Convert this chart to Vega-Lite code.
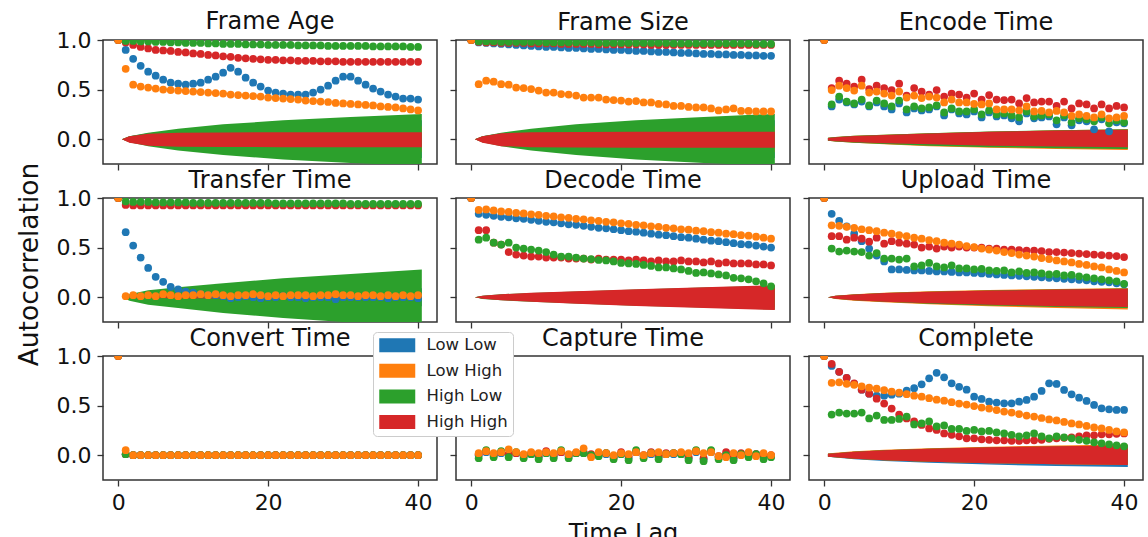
{
"$schema":"https://vega.github.io/schema/vega-lite/v6.json",
"background":"white",
"padding":{"left":15,"top":9,"right":0,"bottom":0},
"autosize":{"type":"pad"},
"columns":3,
"spacing":{"row":34,"column":19},
"bounds":"flush",
"datasets":{
"p1":[
{"s":"a","x":1,"y":0.90},{"s":"a","x":2,"y":0.81},{"s":"a","x":3,"y":0.74},{"s":"a","x":4,"y":0.68},{"s":"a","x":5,"y":0.64},{"s":"a","x":6,"y":0.60},{"s":"a","x":7,"y":0.57},{"s":"a","x":8,"y":0.56},{"s":"a","x":9,"y":0.55},{"s":"a","x":10,"y":0.56},{"s":"a","x":11,"y":0.57},{"s":"a","x":12,"y":0.60},{"s":"a","x":13,"y":0.63},{"s":"a","x":14,"y":0.67},{"s":"a","x":15,"y":0.72},{"s":"a","x":16,"y":0.68},{"s":"a","x":17,"y":0.62},{"s":"a","x":18,"y":0.57},{"s":"a","x":19,"y":0.53},{"s":"a","x":20,"y":0.49},{"s":"a","x":21,"y":0.47},{"s":"a","x":22,"y":0.46},{"s":"a","x":23,"y":0.45},{"s":"a","x":24,"y":0.45},{"s":"a","x":25,"y":0.45},{"s":"a","x":26,"y":0.47},{"s":"a","x":27,"y":0.50},{"s":"a","x":28,"y":0.54},{"s":"a","x":29,"y":0.59},{"s":"a","x":30,"y":0.63},{"s":"a","x":31,"y":0.63},{"s":"a","x":32,"y":0.59},{"s":"a","x":33,"y":0.55},{"s":"a","x":34,"y":0.51},{"s":"a","x":35,"y":0.48},{"s":"a","x":36,"y":0.45},{"s":"a","x":37,"y":0.43},{"s":"a","x":38,"y":0.41},{"s":"a","x":39,"y":0.41},{"s":"a","x":40,"y":0.40},
{"s":"d","x":1,"y":0.975},{"s":"d","x":2,"y":0.95},{"s":"d","x":3,"y":0.93},{"s":"d","x":4,"y":0.915},{"s":"d","x":5,"y":0.90},{"s":"d","x":6,"y":0.895},{"s":"d","x":7,"y":0.89},{"s":"d","x":8,"y":0.88},{"s":"d","x":9,"y":0.875},{"s":"d","x":10,"y":0.865},{"s":"d","x":11,"y":0.86},{"s":"d","x":12,"y":0.85},{"s":"d","x":13,"y":0.845},{"s":"d","x":14,"y":0.835},{"s":"d","x":15,"y":0.83},{"s":"d","x":16,"y":0.82},{"s":"d","x":17,"y":0.815},{"s":"d","x":18,"y":0.81},{"s":"d","x":19,"y":0.805},{"s":"d","x":20,"y":0.80},{"s":"d","x":21,"y":0.80},{"s":"d","x":22,"y":0.795},{"s":"d","x":23,"y":0.795},{"s":"d","x":24,"y":0.79},{"s":"d","x":25,"y":0.79},{"s":"d","x":26,"y":0.79},{"s":"d","x":27,"y":0.785},{"s":"d","x":28,"y":0.785},{"s":"d","x":29,"y":0.785},{"s":"d","x":30,"y":0.78},{"s":"d","x":31,"y":0.78},{"s":"d","x":32,"y":0.78},{"s":"d","x":33,"y":0.78},{"s":"d","x":34,"y":0.78},{"s":"d","x":35,"y":0.78},{"s":"d","x":36,"y":0.78},{"s":"d","x":37,"y":0.78},{"s":"d","x":38,"y":0.78},{"s":"d","x":39,"y":0.78},{"s":"d","x":40,"y":0.78},
{"s":"c","x":1,"y":0.99},{"s":"c","x":2,"y":0.99},{"s":"c","x":3,"y":0.985},{"s":"c","x":4,"y":0.985},{"s":"c","x":5,"y":0.98},{"s":"c","x":6,"y":0.98},{"s":"c","x":7,"y":0.975},{"s":"c","x":8,"y":0.975},{"s":"c","x":9,"y":0.97},{"s":"c","x":10,"y":0.97},{"s":"c","x":11,"y":0.97},{"s":"c","x":12,"y":0.965},{"s":"c","x":13,"y":0.965},{"s":"c","x":14,"y":0.96},{"s":"c","x":15,"y":0.96},{"s":"c","x":16,"y":0.96},{"s":"c","x":17,"y":0.955},{"s":"c","x":18,"y":0.955},{"s":"c","x":19,"y":0.955},{"s":"c","x":20,"y":0.95},{"s":"c","x":21,"y":0.95},{"s":"c","x":22,"y":0.95},{"s":"c","x":23,"y":0.95},{"s":"c","x":24,"y":0.945},{"s":"c","x":25,"y":0.945},{"s":"c","x":26,"y":0.945},{"s":"c","x":27,"y":0.945},{"s":"c","x":28,"y":0.94},{"s":"c","x":29,"y":0.94},{"s":"c","x":30,"y":0.94},{"s":"c","x":31,"y":0.94},{"s":"c","x":32,"y":0.94},{"s":"c","x":33,"y":0.94},{"s":"c","x":34,"y":0.935},{"s":"c","x":35,"y":0.935},{"s":"c","x":36,"y":0.935},{"s":"c","x":37,"y":0.935},{"s":"c","x":38,"y":0.935},{"s":"c","x":39,"y":0.93},{"s":"c","x":40,"y":0.93},
{"s":"b","x":1,"y":0.71},{"s":"b","x":2,"y":0.55},{"s":"b","x":3,"y":0.53},{"s":"b","x":4,"y":0.52},{"s":"b","x":5,"y":0.51},{"s":"b","x":6,"y":0.50},{"s":"b","x":7,"y":0.495},{"s":"b","x":8,"y":0.49},{"s":"b","x":9,"y":0.485},{"s":"b","x":10,"y":0.48},{"s":"b","x":11,"y":0.475},{"s":"b","x":12,"y":0.47},{"s":"b","x":13,"y":0.465},{"s":"b","x":14,"y":0.46},{"s":"b","x":15,"y":0.45},{"s":"b","x":16,"y":0.445},{"s":"b","x":17,"y":0.44},{"s":"b","x":18,"y":0.435},{"s":"b","x":19,"y":0.43},{"s":"b","x":20,"y":0.42},{"s":"b","x":21,"y":0.415},{"s":"b","x":22,"y":0.41},{"s":"b","x":23,"y":0.405},{"s":"b","x":24,"y":0.40},{"s":"b","x":25,"y":0.39},{"s":"b","x":26,"y":0.385},{"s":"b","x":27,"y":0.38},{"s":"b","x":28,"y":0.375},{"s":"b","x":29,"y":0.365},{"s":"b","x":30,"y":0.36},{"s":"b","x":31,"y":0.355},{"s":"b","x":32,"y":0.35},{"s":"b","x":33,"y":0.345},{"s":"b","x":34,"y":0.34},{"s":"b","x":35,"y":0.33},{"s":"b","x":36,"y":0.325},{"s":"b","x":37,"y":0.32},{"s":"b","x":38,"y":0.31},{"s":"b","x":39,"y":0.30},{"s":"b","x":40,"y":0.29},
{"s":"a","x":0,"y":1},{"s":"c","x":0,"y":1},{"s":"d","x":0,"y":1},{"s":"b","x":0,"y":1}],
"p2":[
{"s":"a","x":1,"y":0.975},{"s":"a","x":2,"y":0.97},{"s":"a","x":3,"y":0.965},{"s":"a","x":4,"y":0.96},{"s":"a","x":5,"y":0.955},{"s":"a","x":6,"y":0.95},{"s":"a","x":7,"y":0.945},{"s":"a","x":8,"y":0.94},{"s":"a","x":9,"y":0.935},{"s":"a","x":10,"y":0.93},{"s":"a","x":11,"y":0.93},{"s":"a","x":12,"y":0.925},{"s":"a","x":13,"y":0.92},{"s":"a","x":14,"y":0.92},{"s":"a","x":15,"y":0.915},{"s":"a","x":16,"y":0.91},{"s":"a","x":17,"y":0.91},{"s":"a","x":18,"y":0.905},{"s":"a","x":19,"y":0.90},{"s":"a","x":20,"y":0.90},{"s":"a","x":21,"y":0.895},{"s":"a","x":22,"y":0.89},{"s":"a","x":23,"y":0.89},{"s":"a","x":24,"y":0.885},{"s":"a","x":25,"y":0.88},{"s":"a","x":26,"y":0.88},{"s":"a","x":27,"y":0.875},{"s":"a","x":28,"y":0.87},{"s":"a","x":29,"y":0.87},{"s":"a","x":30,"y":0.865},{"s":"a","x":31,"y":0.86},{"s":"a","x":32,"y":0.86},{"s":"a","x":33,"y":0.855},{"s":"a","x":34,"y":0.855},{"s":"a","x":35,"y":0.85},{"s":"a","x":36,"y":0.85},{"s":"a","x":37,"y":0.845},{"s":"a","x":38,"y":0.845},{"s":"a","x":39,"y":0.84},{"s":"a","x":40,"y":0.84},
{"s":"d","x":1,"y":0.98},{"s":"d","x":2,"y":0.975},{"s":"d","x":3,"y":0.975},{"s":"d","x":4,"y":0.97},{"s":"d","x":5,"y":0.97},{"s":"d","x":6,"y":0.97},{"s":"d","x":7,"y":0.97},{"s":"d","x":8,"y":0.965},{"s":"d","x":9,"y":0.965},{"s":"d","x":10,"y":0.965},{"s":"d","x":11,"y":0.965},{"s":"d","x":12,"y":0.96},{"s":"d","x":13,"y":0.96},{"s":"d","x":14,"y":0.96},{"s":"d","x":15,"y":0.96},{"s":"d","x":16,"y":0.96},{"s":"d","x":17,"y":0.955},{"s":"d","x":18,"y":0.955},{"s":"d","x":19,"y":0.955},{"s":"d","x":20,"y":0.955},{"s":"d","x":21,"y":0.955},{"s":"d","x":22,"y":0.955},{"s":"d","x":23,"y":0.955},{"s":"d","x":24,"y":0.95},{"s":"d","x":25,"y":0.95},{"s":"d","x":26,"y":0.95},{"s":"d","x":27,"y":0.95},{"s":"d","x":28,"y":0.95},{"s":"d","x":29,"y":0.95},{"s":"d","x":30,"y":0.95},{"s":"d","x":31,"y":0.95},{"s":"d","x":32,"y":0.95},{"s":"d","x":33,"y":0.95},{"s":"d","x":34,"y":0.95},{"s":"d","x":35,"y":0.95},{"s":"d","x":36,"y":0.95},{"s":"d","x":37,"y":0.95},{"s":"d","x":38,"y":0.95},{"s":"d","x":39,"y":0.95},{"s":"d","x":40,"y":0.95},
{"s":"c","x":1,"y":0.985},{"s":"c","x":2,"y":0.985},{"s":"c","x":3,"y":0.985},{"s":"c","x":4,"y":0.98},{"s":"c","x":5,"y":0.98},{"s":"c","x":6,"y":0.98},{"s":"c","x":7,"y":0.98},{"s":"c","x":8,"y":0.98},{"s":"c","x":9,"y":0.98},{"s":"c","x":10,"y":0.975},{"s":"c","x":11,"y":0.975},{"s":"c","x":12,"y":0.975},{"s":"c","x":13,"y":0.975},{"s":"c","x":14,"y":0.975},{"s":"c","x":15,"y":0.975},{"s":"c","x":16,"y":0.975},{"s":"c","x":17,"y":0.97},{"s":"c","x":18,"y":0.97},{"s":"c","x":19,"y":0.97},{"s":"c","x":20,"y":0.97},{"s":"c","x":21,"y":0.97},{"s":"c","x":22,"y":0.97},{"s":"c","x":23,"y":0.97},{"s":"c","x":24,"y":0.97},{"s":"c","x":25,"y":0.97},{"s":"c","x":26,"y":0.97},{"s":"c","x":27,"y":0.965},{"s":"c","x":28,"y":0.965},{"s":"c","x":29,"y":0.965},{"s":"c","x":30,"y":0.965},{"s":"c","x":31,"y":0.965},{"s":"c","x":32,"y":0.965},{"s":"c","x":33,"y":0.965},{"s":"c","x":34,"y":0.965},{"s":"c","x":35,"y":0.965},{"s":"c","x":36,"y":0.965},{"s":"c","x":37,"y":0.965},{"s":"c","x":38,"y":0.96},{"s":"c","x":39,"y":0.96},{"s":"c","x":40,"y":0.96},
{"s":"b","x":1,"y":0.555},{"s":"b","x":2,"y":0.59},{"s":"b","x":3,"y":0.58},{"s":"b","x":4,"y":0.555},{"s":"b","x":5,"y":0.55},{"s":"b","x":6,"y":0.52},{"s":"b","x":7,"y":0.515},{"s":"b","x":8,"y":0.505},{"s":"b","x":9,"y":0.49},{"s":"b","x":10,"y":0.47},{"s":"b","x":11,"y":0.47},{"s":"b","x":12,"y":0.455},{"s":"b","x":13,"y":0.45},{"s":"b","x":14,"y":0.44},{"s":"b","x":15,"y":0.42},{"s":"b","x":16,"y":0.42},{"s":"b","x":17,"y":0.42},{"s":"b","x":18,"y":0.40},{"s":"b","x":19,"y":0.395},{"s":"b","x":20,"y":0.39},{"s":"b","x":21,"y":0.38},{"s":"b","x":22,"y":0.385},{"s":"b","x":23,"y":0.37},{"s":"b","x":24,"y":0.37},{"s":"b","x":25,"y":0.355},{"s":"b","x":26,"y":0.35},{"s":"b","x":27,"y":0.335},{"s":"b","x":28,"y":0.335},{"s":"b","x":29,"y":0.325},{"s":"b","x":30,"y":0.32},{"s":"b","x":31,"y":0.32},{"s":"b","x":32,"y":0.31},{"s":"b","x":33,"y":0.29},{"s":"b","x":34,"y":0.30},{"s":"b","x":35,"y":0.31},{"s":"b","x":36,"y":0.285},{"s":"b","x":37,"y":0.285},{"s":"b","x":38,"y":0.28},{"s":"b","x":39,"y":0.28},{"s":"b","x":40,"y":0.28},
{"s":"a","x":0,"y":1},{"s":"c","x":0,"y":1},{"s":"d","x":0,"y":1},{"s":"b","x":0,"y":1}],
"p3":[
{"s":"a","x":1,"y":0.33},{"s":"a","x":2,"y":0.40},{"s":"a","x":3,"y":0.37},{"s":"a","x":4,"y":0.35},{"s":"a","x":5,"y":0.38},{"s":"a","x":6,"y":0.33},{"s":"a","x":7,"y":0.37},{"s":"a","x":8,"y":0.33},{"s":"a","x":9,"y":0.30},{"s":"a","x":10,"y":0.36},{"s":"a","x":11,"y":0.27},{"s":"a","x":12,"y":0.31},{"s":"a","x":13,"y":0.29},{"s":"a","x":14,"y":0.30},{"s":"a","x":15,"y":0.33},{"s":"a","x":16,"y":0.24},{"s":"a","x":17,"y":0.30},{"s":"a","x":18,"y":0.26},{"s":"a","x":19,"y":0.25},{"s":"a","x":20,"y":0.28},{"s":"a","x":21,"y":0.22},{"s":"a","x":22,"y":0.27},{"s":"a","x":23,"y":0.23},{"s":"a","x":24,"y":0.24},{"s":"a","x":25,"y":0.21},{"s":"a","x":26,"y":0.18},{"s":"a","x":27,"y":0.26},{"s":"a","x":28,"y":0.21},{"s":"a","x":29,"y":0.22},{"s":"a","x":30,"y":0.23},{"s":"a","x":31,"y":0.15},{"s":"a","x":32,"y":0.22},{"s":"a","x":33,"y":0.14},{"s":"a","x":34,"y":0.19},{"s":"a","x":35,"y":0.18},{"s":"a","x":36,"y":0.10},{"s":"a","x":37,"y":0.20},{"s":"a","x":38,"y":0.08},{"s":"a","x":39,"y":0.17},{"s":"a","x":40,"y":0.16},
{"s":"d","x":1,"y":0.515},{"s":"d","x":2,"y":0.59},{"s":"d","x":3,"y":0.56},{"s":"d","x":4,"y":0.53},{"s":"d","x":5,"y":0.60},{"s":"d","x":6,"y":0.505},{"s":"d","x":7,"y":0.54},{"s":"d","x":8,"y":0.515},{"s":"d","x":9,"y":0.495},{"s":"d","x":10,"y":0.56},{"s":"d","x":11,"y":0.44},{"s":"d","x":12,"y":0.515},{"s":"d","x":13,"y":0.48},{"s":"d","x":14,"y":0.45},{"s":"d","x":15,"y":0.495},{"s":"d","x":16,"y":0.43},{"s":"d","x":17,"y":0.46},{"s":"d","x":18,"y":0.45},{"s":"d","x":19,"y":0.42},{"s":"d","x":20,"y":0.46},{"s":"d","x":21,"y":0.40},{"s":"d","x":22,"y":0.445},{"s":"d","x":23,"y":0.40},{"s":"d","x":24,"y":0.395},{"s":"d","x":25,"y":0.40},{"s":"d","x":26,"y":0.36},{"s":"d","x":27,"y":0.415},{"s":"d","x":28,"y":0.37},{"s":"d","x":29,"y":0.38},{"s":"d","x":30,"y":0.38},{"s":"d","x":31,"y":0.335},{"s":"d","x":32,"y":0.38},{"s":"d","x":33,"y":0.31},{"s":"d","x":34,"y":0.36},{"s":"d","x":35,"y":0.35},{"s":"d","x":36,"y":0.31},{"s":"d","x":37,"y":0.35},{"s":"d","x":38,"y":0.31},{"s":"d","x":39,"y":0.335},{"s":"d","x":40,"y":0.32},
{"s":"c","x":1,"y":0.35},{"s":"c","x":2,"y":0.43},{"s":"c","x":3,"y":0.38},{"s":"c","x":4,"y":0.36},{"s":"c","x":5,"y":0.40},{"s":"c","x":6,"y":0.34},{"s":"c","x":7,"y":0.39},{"s":"c","x":8,"y":0.36},{"s":"c","x":9,"y":0.33},{"s":"c","x":10,"y":0.39},{"s":"c","x":11,"y":0.30},{"s":"c","x":12,"y":0.33},{"s":"c","x":13,"y":0.31},{"s":"c","x":14,"y":0.32},{"s":"c","x":15,"y":0.34},{"s":"c","x":16,"y":0.27},{"s":"c","x":17,"y":0.31},{"s":"c","x":18,"y":0.28},{"s":"c","x":19,"y":0.28},{"s":"c","x":20,"y":0.30},{"s":"c","x":21,"y":0.25},{"s":"c","x":22,"y":0.29},{"s":"c","x":23,"y":0.25},{"s":"c","x":24,"y":0.26},{"s":"c","x":25,"y":0.24},{"s":"c","x":26,"y":0.22},{"s":"c","x":27,"y":0.28},{"s":"c","x":28,"y":0.23},{"s":"c","x":29,"y":0.24},{"s":"c","x":30,"y":0.25},{"s":"c","x":31,"y":0.19},{"s":"c","x":32,"y":0.24},{"s":"c","x":33,"y":0.17},{"s":"c","x":34,"y":0.21},{"s":"c","x":35,"y":0.20},{"s":"c","x":36,"y":0.18},{"s":"c","x":37,"y":0.22},{"s":"c","x":38,"y":0.16},{"s":"c","x":39,"y":0.19},{"s":"c","x":40,"y":0.17},
{"s":"b","x":1,"y":0.495},{"s":"b","x":2,"y":0.54},{"s":"b","x":3,"y":0.515},{"s":"b","x":4,"y":0.49},{"s":"b","x":5,"y":0.54},{"s":"b","x":6,"y":0.47},{"s":"b","x":7,"y":0.48},{"s":"b","x":8,"y":0.46},{"s":"b","x":9,"y":0.44},{"s":"b","x":10,"y":0.48},{"s":"b","x":11,"y":0.42},{"s":"b","x":12,"y":0.44},{"s":"b","x":13,"y":0.415},{"s":"b","x":14,"y":0.43},{"s":"b","x":15,"y":0.42},{"s":"b","x":16,"y":0.37},{"s":"b","x":17,"y":0.40},{"s":"b","x":18,"y":0.37},{"s":"b","x":19,"y":0.37},{"s":"b","x":20,"y":0.355},{"s":"b","x":21,"y":0.35},{"s":"b","x":22,"y":0.36},{"s":"b","x":23,"y":0.30},{"s":"b","x":24,"y":0.30},{"s":"b","x":25,"y":0.30},{"s":"b","x":26,"y":0.29},{"s":"b","x":27,"y":0.33},{"s":"b","x":28,"y":0.28},{"s":"b","x":29,"y":0.285},{"s":"b","x":30,"y":0.27},{"s":"b","x":31,"y":0.285},{"s":"b","x":32,"y":0.27},{"s":"b","x":33,"y":0.235},{"s":"b","x":34,"y":0.25},{"s":"b","x":35,"y":0.235},{"s":"b","x":36,"y":0.22},{"s":"b","x":37,"y":0.25},{"s":"b","x":38,"y":0.21},{"s":"b","x":39,"y":0.22},{"s":"b","x":40,"y":0.235},
{"s":"a","x":0,"y":1},{"s":"c","x":0,"y":1},{"s":"d","x":0,"y":1},{"s":"b","x":0,"y":1}],
"p4":[
{"s":"a","x":1,"y":0.655},{"s":"a","x":2,"y":0.52},{"s":"a","x":3,"y":0.40},{"s":"a","x":4,"y":0.295},{"s":"a","x":5,"y":0.205},{"s":"a","x":6,"y":0.155},{"s":"a","x":7,"y":0.105},{"s":"a","x":8,"y":0.08},{"s":"a","x":9,"y":0.055},{"s":"a","x":10,"y":0.045},{"s":"a","x":11,"y":0.03},{"s":"a","x":12,"y":0.02},{"s":"a","x":13,"y":0.02},{"s":"a","x":14,"y":0.01},{"s":"a","x":15,"y":-0.01},{"s":"a","x":16,"y":0.0},{"s":"a","x":17,"y":0.01},{"s":"a","x":18,"y":0.0},{"s":"a","x":19,"y":-0.01},{"s":"a","x":20,"y":0.0},{"s":"a","x":21,"y":0.0},{"s":"a","x":22,"y":0.01},{"s":"a","x":23,"y":0.0},{"s":"a","x":24,"y":0.0},{"s":"a","x":25,"y":-0.01},{"s":"a","x":26,"y":0.0},{"s":"a","x":27,"y":0.0},{"s":"a","x":28,"y":0.0},{"s":"a","x":29,"y":-0.02},{"s":"a","x":30,"y":0.0},{"s":"a","x":31,"y":0.0},{"s":"a","x":32,"y":0.0},{"s":"a","x":33,"y":0.0},{"s":"a","x":34,"y":0.0},{"s":"a","x":35,"y":0.0},{"s":"a","x":36,"y":-0.01},{"s":"a","x":37,"y":0.0},{"s":"a","x":38,"y":0.0},{"s":"a","x":39,"y":0.0},{"s":"a","x":40,"y":-0.01},
{"s":"d","x":1,"y":0.93},{"s":"d","x":2,"y":0.925},{"s":"d","x":3,"y":0.925},{"s":"d","x":4,"y":0.925},{"s":"d","x":5,"y":0.925},{"s":"d","x":6,"y":0.925},{"s":"d","x":7,"y":0.925},{"s":"d","x":8,"y":0.925},{"s":"d","x":9,"y":0.925},{"s":"d","x":10,"y":0.925},{"s":"d","x":11,"y":0.925},{"s":"d","x":12,"y":0.925},{"s":"d","x":13,"y":0.925},{"s":"d","x":14,"y":0.925},{"s":"d","x":15,"y":0.925},{"s":"d","x":16,"y":0.925},{"s":"d","x":17,"y":0.925},{"s":"d","x":18,"y":0.925},{"s":"d","x":19,"y":0.925},{"s":"d","x":20,"y":0.925},{"s":"d","x":21,"y":0.925},{"s":"d","x":22,"y":0.925},{"s":"d","x":23,"y":0.925},{"s":"d","x":24,"y":0.925},{"s":"d","x":25,"y":0.925},{"s":"d","x":26,"y":0.925},{"s":"d","x":27,"y":0.925},{"s":"d","x":28,"y":0.925},{"s":"d","x":29,"y":0.925},{"s":"d","x":30,"y":0.925},{"s":"d","x":31,"y":0.925},{"s":"d","x":32,"y":0.925},{"s":"d","x":33,"y":0.925},{"s":"d","x":34,"y":0.925},{"s":"d","x":35,"y":0.925},{"s":"d","x":36,"y":0.925},{"s":"d","x":37,"y":0.925},{"s":"d","x":38,"y":0.925},{"s":"d","x":39,"y":0.925},{"s":"d","x":40,"y":0.925},
{"s":"c","x":1,"y":0.965},{"s":"c","x":2,"y":0.96},{"s":"c","x":3,"y":0.96},{"s":"c","x":4,"y":0.96},{"s":"c","x":5,"y":0.955},{"s":"c","x":6,"y":0.955},{"s":"c","x":7,"y":0.955},{"s":"c","x":8,"y":0.955},{"s":"c","x":9,"y":0.955},{"s":"c","x":10,"y":0.95},{"s":"c","x":11,"y":0.95},{"s":"c","x":12,"y":0.95},{"s":"c","x":13,"y":0.95},{"s":"c","x":14,"y":0.95},{"s":"c","x":15,"y":0.95},{"s":"c","x":16,"y":0.95},{"s":"c","x":17,"y":0.95},{"s":"c","x":18,"y":0.95},{"s":"c","x":19,"y":0.95},{"s":"c","x":20,"y":0.95},{"s":"c","x":21,"y":0.945},{"s":"c","x":22,"y":0.945},{"s":"c","x":23,"y":0.945},{"s":"c","x":24,"y":0.945},{"s":"c","x":25,"y":0.945},{"s":"c","x":26,"y":0.945},{"s":"c","x":27,"y":0.945},{"s":"c","x":28,"y":0.945},{"s":"c","x":29,"y":0.945},{"s":"c","x":30,"y":0.945},{"s":"c","x":31,"y":0.94},{"s":"c","x":32,"y":0.94},{"s":"c","x":33,"y":0.94},{"s":"c","x":34,"y":0.94},{"s":"c","x":35,"y":0.94},{"s":"c","x":36,"y":0.94},{"s":"c","x":37,"y":0.94},{"s":"c","x":38,"y":0.94},{"s":"c","x":39,"y":0.94},{"s":"c","x":40,"y":0.94},
{"s":"b","x":1,"y":0.01},{"s":"b","x":2,"y":0.02},{"s":"b","x":3,"y":0.01},{"s":"b","x":4,"y":0.02},{"s":"b","x":5,"y":0.01},{"s":"b","x":6,"y":0.03},{"s":"b","x":7,"y":0.02},{"s":"b","x":8,"y":0.01},{"s":"b","x":9,"y":0.02},{"s":"b","x":10,"y":0.02},{"s":"b","x":11,"y":0.03},{"s":"b","x":12,"y":0.02},{"s":"b","x":13,"y":0.03},{"s":"b","x":14,"y":0.02},{"s":"b","x":15,"y":0.01},{"s":"b","x":16,"y":0.02},{"s":"b","x":17,"y":0.02},{"s":"b","x":18,"y":0.03},{"s":"b","x":19,"y":0.02},{"s":"b","x":20,"y":0.01},{"s":"b","x":21,"y":0.02},{"s":"b","x":22,"y":0.01},{"s":"b","x":23,"y":0.02},{"s":"b","x":24,"y":0.02},{"s":"b","x":25,"y":0.02},{"s":"b","x":26,"y":0.01},{"s":"b","x":27,"y":0.02},{"s":"b","x":28,"y":0.02},{"s":"b","x":29,"y":0.03},{"s":"b","x":30,"y":0.02},{"s":"b","x":31,"y":0.02},{"s":"b","x":32,"y":0.01},{"s":"b","x":33,"y":0.02},{"s":"b","x":34,"y":0.02},{"s":"b","x":35,"y":0.01},{"s":"b","x":36,"y":0.02},{"s":"b","x":37,"y":0.01},{"s":"b","x":38,"y":0.02},{"s":"b","x":39,"y":0.01},{"s":"b","x":40,"y":0.02},
{"s":"a","x":0,"y":1},{"s":"c","x":0,"y":1},{"s":"d","x":0,"y":1},{"s":"b","x":0,"y":1}],
"p5":[
{"s":"a","x":1,"y":0.84},{"s":"a","x":2,"y":0.83},{"s":"a","x":3,"y":0.82},{"s":"a","x":4,"y":0.81},{"s":"a","x":5,"y":0.805},{"s":"a","x":6,"y":0.795},{"s":"a","x":7,"y":0.79},{"s":"a","x":8,"y":0.78},{"s":"a","x":9,"y":0.77},{"s":"a","x":10,"y":0.76},{"s":"a","x":11,"y":0.755},{"s":"a","x":12,"y":0.745},{"s":"a","x":13,"y":0.735},{"s":"a","x":14,"y":0.73},{"s":"a","x":15,"y":0.72},{"s":"a","x":16,"y":0.71},{"s":"a","x":17,"y":0.70},{"s":"a","x":18,"y":0.695},{"s":"a","x":19,"y":0.685},{"s":"a","x":20,"y":0.675},{"s":"a","x":21,"y":0.665},{"s":"a","x":22,"y":0.66},{"s":"a","x":23,"y":0.65},{"s":"a","x":24,"y":0.64},{"s":"a","x":25,"y":0.63},{"s":"a","x":26,"y":0.625},{"s":"a","x":27,"y":0.615},{"s":"a","x":28,"y":0.605},{"s":"a","x":29,"y":0.60},{"s":"a","x":30,"y":0.59},{"s":"a","x":31,"y":0.58},{"s":"a","x":32,"y":0.57},{"s":"a","x":33,"y":0.565},{"s":"a","x":34,"y":0.555},{"s":"a","x":35,"y":0.545},{"s":"a","x":36,"y":0.535},{"s":"a","x":37,"y":0.53},{"s":"a","x":38,"y":0.52},{"s":"a","x":39,"y":0.51},{"s":"a","x":40,"y":0.50},
{"s":"d","x":1,"y":0.675},{"s":"d","x":2,"y":0.675},{"s":"d","x":3,"y":0.55},{"s":"d","x":4,"y":0.53},{"s":"d","x":5,"y":0.455},{"s":"d","x":6,"y":0.43},{"s":"d","x":7,"y":0.42},{"s":"d","x":8,"y":0.41},{"s":"d","x":9,"y":0.41},{"s":"d","x":10,"y":0.40},{"s":"d","x":11,"y":0.40},{"s":"d","x":12,"y":0.40},{"s":"d","x":13,"y":0.39},{"s":"d","x":14,"y":0.39},{"s":"d","x":15,"y":0.39},{"s":"d","x":16,"y":0.38},{"s":"d","x":17,"y":0.39},{"s":"d","x":18,"y":0.38},{"s":"d","x":19,"y":0.38},{"s":"d","x":20,"y":0.38},{"s":"d","x":21,"y":0.37},{"s":"d","x":22,"y":0.38},{"s":"d","x":23,"y":0.37},{"s":"d","x":24,"y":0.36},{"s":"d","x":25,"y":0.37},{"s":"d","x":26,"y":0.36},{"s":"d","x":27,"y":0.36},{"s":"d","x":28,"y":0.37},{"s":"d","x":29,"y":0.36},{"s":"d","x":30,"y":0.36},{"s":"d","x":31,"y":0.35},{"s":"d","x":32,"y":0.36},{"s":"d","x":33,"y":0.34},{"s":"d","x":34,"y":0.35},{"s":"d","x":35,"y":0.34},{"s":"d","x":36,"y":0.34},{"s":"d","x":37,"y":0.34},{"s":"d","x":38,"y":0.33},{"s":"d","x":39,"y":0.33},{"s":"d","x":40,"y":0.32},
{"s":"c","x":1,"y":0.58},{"s":"c","x":2,"y":0.60},{"s":"c","x":3,"y":0.55},{"s":"c","x":4,"y":0.53},{"s":"c","x":5,"y":0.55},{"s":"c","x":6,"y":0.50},{"s":"c","x":7,"y":0.49},{"s":"c","x":8,"y":0.48},{"s":"c","x":9,"y":0.47},{"s":"c","x":10,"y":0.455},{"s":"c","x":11,"y":0.43},{"s":"c","x":12,"y":0.41},{"s":"c","x":13,"y":0.41},{"s":"c","x":14,"y":0.40},{"s":"c","x":15,"y":0.39},{"s":"c","x":16,"y":0.385},{"s":"c","x":17,"y":0.375},{"s":"c","x":18,"y":0.37},{"s":"c","x":19,"y":0.36},{"s":"c","x":20,"y":0.345},{"s":"c","x":21,"y":0.34},{"s":"c","x":22,"y":0.335},{"s":"c","x":23,"y":0.325},{"s":"c","x":24,"y":0.315},{"s":"c","x":25,"y":0.30},{"s":"c","x":26,"y":0.30},{"s":"c","x":27,"y":0.29},{"s":"c","x":28,"y":0.28},{"s":"c","x":29,"y":0.265},{"s":"c","x":30,"y":0.245},{"s":"c","x":31,"y":0.25},{"s":"c","x":32,"y":0.24},{"s":"c","x":33,"y":0.23},{"s":"c","x":34,"y":0.22},{"s":"c","x":35,"y":0.195},{"s":"c","x":36,"y":0.19},{"s":"c","x":37,"y":0.18},{"s":"c","x":38,"y":0.16},{"s":"c","x":39,"y":0.14},{"s":"c","x":40,"y":0.11},
{"s":"b","x":1,"y":0.88},{"s":"b","x":2,"y":0.885},{"s":"b","x":3,"y":0.875},{"s":"b","x":4,"y":0.865},{"s":"b","x":5,"y":0.86},{"s":"b","x":6,"y":0.85},{"s":"b","x":7,"y":0.845},{"s":"b","x":8,"y":0.835},{"s":"b","x":9,"y":0.83},{"s":"b","x":10,"y":0.82},{"s":"b","x":11,"y":0.815},{"s":"b","x":12,"y":0.805},{"s":"b","x":13,"y":0.80},{"s":"b","x":14,"y":0.79},{"s":"b","x":15,"y":0.785},{"s":"b","x":16,"y":0.775},{"s":"b","x":17,"y":0.77},{"s":"b","x":18,"y":0.76},{"s":"b","x":19,"y":0.755},{"s":"b","x":20,"y":0.745},{"s":"b","x":21,"y":0.74},{"s":"b","x":22,"y":0.73},{"s":"b","x":23,"y":0.725},{"s":"b","x":24,"y":0.715},{"s":"b","x":25,"y":0.71},{"s":"b","x":26,"y":0.70},{"s":"b","x":27,"y":0.695},{"s":"b","x":28,"y":0.685},{"s":"b","x":29,"y":0.68},{"s":"b","x":30,"y":0.67},{"s":"b","x":31,"y":0.665},{"s":"b","x":32,"y":0.655},{"s":"b","x":33,"y":0.65},{"s":"b","x":34,"y":0.64},{"s":"b","x":35,"y":0.635},{"s":"b","x":36,"y":0.625},{"s":"b","x":37,"y":0.62},{"s":"b","x":38,"y":0.61},{"s":"b","x":39,"y":0.60},{"s":"b","x":40,"y":0.59},
{"s":"a","x":0,"y":1},{"s":"c","x":0,"y":1},{"s":"d","x":0,"y":1},{"s":"b","x":0,"y":1}],
"p6":[
{"s":"a","x":1,"y":0.84},{"s":"a","x":2,"y":0.77},{"s":"a","x":3,"y":0.715},{"s":"a","x":4,"y":0.64},{"s":"a","x":5,"y":0.565},{"s":"a","x":6,"y":0.49},{"s":"a","x":7,"y":0.42},{"s":"a","x":8,"y":0.36},{"s":"a","x":9,"y":0.28},{"s":"a","x":10,"y":0.28},{"s":"a","x":11,"y":0.275},{"s":"a","x":12,"y":0.27},{"s":"a","x":13,"y":0.27},{"s":"a","x":14,"y":0.265},{"s":"a","x":15,"y":0.26},{"s":"a","x":16,"y":0.26},{"s":"a","x":17,"y":0.255},{"s":"a","x":18,"y":0.25},{"s":"a","x":19,"y":0.25},{"s":"a","x":20,"y":0.245},{"s":"a","x":21,"y":0.24},{"s":"a","x":22,"y":0.235},{"s":"a","x":23,"y":0.23},{"s":"a","x":24,"y":0.225},{"s":"a","x":25,"y":0.22},{"s":"a","x":26,"y":0.215},{"s":"a","x":27,"y":0.21},{"s":"a","x":28,"y":0.205},{"s":"a","x":29,"y":0.20},{"s":"a","x":30,"y":0.195},{"s":"a","x":31,"y":0.19},{"s":"a","x":32,"y":0.185},{"s":"a","x":33,"y":0.18},{"s":"a","x":34,"y":0.175},{"s":"a","x":35,"y":0.17},{"s":"a","x":36,"y":0.16},{"s":"a","x":37,"y":0.155},{"s":"a","x":38,"y":0.15},{"s":"a","x":39,"y":0.14},{"s":"a","x":40,"y":0.13},
{"s":"d","x":1,"y":0.615},{"s":"d","x":2,"y":0.615},{"s":"d","x":3,"y":0.58},{"s":"d","x":4,"y":0.60},{"s":"d","x":5,"y":0.59},{"s":"d","x":6,"y":0.56},{"s":"d","x":7,"y":0.60},{"s":"d","x":8,"y":0.54},{"s":"d","x":9,"y":0.565},{"s":"d","x":10,"y":0.55},{"s":"d","x":11,"y":0.54},{"s":"d","x":12,"y":0.53},{"s":"d","x":13,"y":0.50},{"s":"d","x":14,"y":0.51},{"s":"d","x":15,"y":0.49},{"s":"d","x":16,"y":0.51},{"s":"d","x":17,"y":0.50},{"s":"d","x":18,"y":0.51},{"s":"d","x":19,"y":0.50},{"s":"d","x":20,"y":0.50},{"s":"d","x":21,"y":0.50},{"s":"d","x":22,"y":0.49},{"s":"d","x":23,"y":0.49},{"s":"d","x":24,"y":0.48},{"s":"d","x":25,"y":0.48},{"s":"d","x":26,"y":0.475},{"s":"d","x":27,"y":0.47},{"s":"d","x":28,"y":0.47},{"s":"d","x":29,"y":0.465},{"s":"d","x":30,"y":0.455},{"s":"d","x":31,"y":0.455},{"s":"d","x":32,"y":0.45},{"s":"d","x":33,"y":0.445},{"s":"d","x":34,"y":0.44},{"s":"d","x":35,"y":0.435},{"s":"d","x":36,"y":0.43},{"s":"d","x":37,"y":0.425},{"s":"d","x":38,"y":0.42},{"s":"d","x":39,"y":0.415},{"s":"d","x":40,"y":0.405},
{"s":"c","x":1,"y":0.49},{"s":"c","x":2,"y":0.46},{"s":"c","x":3,"y":0.47},{"s":"c","x":4,"y":0.46},{"s":"c","x":5,"y":0.455},{"s":"c","x":6,"y":0.42},{"s":"c","x":7,"y":0.445},{"s":"c","x":8,"y":0.39},{"s":"c","x":9,"y":0.39},{"s":"c","x":10,"y":0.38},{"s":"c","x":11,"y":0.39},{"s":"c","x":12,"y":0.31},{"s":"c","x":13,"y":0.32},{"s":"c","x":14,"y":0.345},{"s":"c","x":15,"y":0.31},{"s":"c","x":16,"y":0.30},{"s":"c","x":17,"y":0.32},{"s":"c","x":18,"y":0.29},{"s":"c","x":19,"y":0.29},{"s":"c","x":20,"y":0.28},{"s":"c","x":21,"y":0.285},{"s":"c","x":22,"y":0.27},{"s":"c","x":23,"y":0.265},{"s":"c","x":24,"y":0.27},{"s":"c","x":25,"y":0.25},{"s":"c","x":26,"y":0.26},{"s":"c","x":27,"y":0.245},{"s":"c","x":28,"y":0.25},{"s":"c","x":29,"y":0.24},{"s":"c","x":30,"y":0.23},{"s":"c","x":31,"y":0.235},{"s":"c","x":32,"y":0.22},{"s":"c","x":33,"y":0.225},{"s":"c","x":34,"y":0.21},{"s":"c","x":35,"y":0.20},{"s":"c","x":36,"y":0.19},{"s":"c","x":37,"y":0.18},{"s":"c","x":38,"y":0.17},{"s":"c","x":39,"y":0.16},{"s":"c","x":40,"y":0.135},
{"s":"b","x":1,"y":0.725},{"s":"b","x":2,"y":0.72},{"s":"b","x":3,"y":0.71},{"s":"b","x":4,"y":0.70},{"s":"b","x":5,"y":0.685},{"s":"b","x":6,"y":0.675},{"s":"b","x":7,"y":0.665},{"s":"b","x":8,"y":0.65},{"s":"b","x":9,"y":0.64},{"s":"b","x":10,"y":0.625},{"s":"b","x":11,"y":0.615},{"s":"b","x":12,"y":0.60},{"s":"b","x":13,"y":0.59},{"s":"b","x":14,"y":0.575},{"s":"b","x":15,"y":0.565},{"s":"b","x":16,"y":0.55},{"s":"b","x":17,"y":0.54},{"s":"b","x":18,"y":0.53},{"s":"b","x":19,"y":0.515},{"s":"b","x":20,"y":0.505},{"s":"b","x":21,"y":0.49},{"s":"b","x":22,"y":0.48},{"s":"b","x":23,"y":0.47},{"s":"b","x":24,"y":0.455},{"s":"b","x":25,"y":0.445},{"s":"b","x":26,"y":0.43},{"s":"b","x":27,"y":0.42},{"s":"b","x":28,"y":0.41},{"s":"b","x":29,"y":0.395},{"s":"b","x":30,"y":0.385},{"s":"b","x":31,"y":0.37},{"s":"b","x":32,"y":0.36},{"s":"b","x":33,"y":0.35},{"s":"b","x":34,"y":0.335},{"s":"b","x":35,"y":0.325},{"s":"b","x":36,"y":0.31},{"s":"b","x":37,"y":0.30},{"s":"b","x":38,"y":0.28},{"s":"b","x":39,"y":0.265},{"s":"b","x":40,"y":0.25},
{"s":"a","x":0,"y":1},{"s":"c","x":0,"y":1},{"s":"d","x":0,"y":1},{"s":"b","x":0,"y":1}],
"p7":[
{"s":"a","x":1,"y":0.01},{"s":"a","x":2,"y":0},{"s":"a","x":3,"y":0},{"s":"a","x":4,"y":0},{"s":"a","x":5,"y":0},{"s":"a","x":6,"y":0},{"s":"a","x":7,"y":0},{"s":"a","x":8,"y":0},{"s":"a","x":9,"y":0},{"s":"a","x":10,"y":0},{"s":"a","x":11,"y":0},{"s":"a","x":12,"y":0},{"s":"a","x":13,"y":0},{"s":"a","x":14,"y":0},{"s":"a","x":15,"y":0},{"s":"a","x":16,"y":0},{"s":"a","x":17,"y":0},{"s":"a","x":18,"y":0},{"s":"a","x":19,"y":0},{"s":"a","x":20,"y":0},{"s":"a","x":21,"y":0},{"s":"a","x":22,"y":0},{"s":"a","x":23,"y":0},{"s":"a","x":24,"y":0},{"s":"a","x":25,"y":0},{"s":"a","x":26,"y":0},{"s":"a","x":27,"y":0},{"s":"a","x":28,"y":0},{"s":"a","x":29,"y":0},{"s":"a","x":30,"y":0},{"s":"a","x":31,"y":0},{"s":"a","x":32,"y":0},{"s":"a","x":33,"y":0},{"s":"a","x":34,"y":0},{"s":"a","x":35,"y":0},{"s":"a","x":36,"y":0},{"s":"a","x":37,"y":0},{"s":"a","x":38,"y":0},{"s":"a","x":39,"y":0},{"s":"a","x":40,"y":0},
{"s":"d","x":1,"y":0.01},{"s":"d","x":2,"y":0},{"s":"d","x":3,"y":0},{"s":"d","x":4,"y":0},{"s":"d","x":5,"y":0},{"s":"d","x":6,"y":0},{"s":"d","x":7,"y":0},{"s":"d","x":8,"y":0},{"s":"d","x":9,"y":0},{"s":"d","x":10,"y":0},{"s":"d","x":11,"y":0},{"s":"d","x":12,"y":0},{"s":"d","x":13,"y":0},{"s":"d","x":14,"y":0},{"s":"d","x":15,"y":0},{"s":"d","x":16,"y":0},{"s":"d","x":17,"y":0},{"s":"d","x":18,"y":0},{"s":"d","x":19,"y":0},{"s":"d","x":20,"y":0},{"s":"d","x":21,"y":0},{"s":"d","x":22,"y":0},{"s":"d","x":23,"y":0},{"s":"d","x":24,"y":0},{"s":"d","x":25,"y":0},{"s":"d","x":26,"y":0},{"s":"d","x":27,"y":0},{"s":"d","x":28,"y":0},{"s":"d","x":29,"y":0},{"s":"d","x":30,"y":0},{"s":"d","x":31,"y":0},{"s":"d","x":32,"y":0},{"s":"d","x":33,"y":0},{"s":"d","x":34,"y":0},{"s":"d","x":35,"y":0},{"s":"d","x":36,"y":0},{"s":"d","x":37,"y":0},{"s":"d","x":38,"y":0},{"s":"d","x":39,"y":0},{"s":"d","x":40,"y":0},
{"s":"c","x":1,"y":0.01},{"s":"c","x":2,"y":0},{"s":"c","x":3,"y":0},{"s":"c","x":4,"y":0},{"s":"c","x":5,"y":0},{"s":"c","x":6,"y":0},{"s":"c","x":7,"y":0},{"s":"c","x":8,"y":0},{"s":"c","x":9,"y":0},{"s":"c","x":10,"y":0},{"s":"c","x":11,"y":0},{"s":"c","x":12,"y":0},{"s":"c","x":13,"y":0},{"s":"c","x":14,"y":0},{"s":"c","x":15,"y":0},{"s":"c","x":16,"y":0},{"s":"c","x":17,"y":0},{"s":"c","x":18,"y":0},{"s":"c","x":19,"y":0},{"s":"c","x":20,"y":0},{"s":"c","x":21,"y":0},{"s":"c","x":22,"y":0},{"s":"c","x":23,"y":0},{"s":"c","x":24,"y":0},{"s":"c","x":25,"y":0},{"s":"c","x":26,"y":0},{"s":"c","x":27,"y":0},{"s":"c","x":28,"y":0},{"s":"c","x":29,"y":0},{"s":"c","x":30,"y":0},{"s":"c","x":31,"y":0},{"s":"c","x":32,"y":0},{"s":"c","x":33,"y":0},{"s":"c","x":34,"y":0},{"s":"c","x":35,"y":0},{"s":"c","x":36,"y":0},{"s":"c","x":37,"y":0},{"s":"c","x":38,"y":0},{"s":"c","x":39,"y":0},{"s":"c","x":40,"y":0},
{"s":"b","x":1,"y":0.05},{"s":"b","x":2,"y":0},{"s":"b","x":3,"y":0},{"s":"b","x":4,"y":0},{"s":"b","x":5,"y":0},{"s":"b","x":6,"y":0},{"s":"b","x":7,"y":0},{"s":"b","x":8,"y":0},{"s":"b","x":9,"y":0},{"s":"b","x":10,"y":0},{"s":"b","x":11,"y":0},{"s":"b","x":12,"y":0},{"s":"b","x":13,"y":0},{"s":"b","x":14,"y":0},{"s":"b","x":15,"y":0},{"s":"b","x":16,"y":0},{"s":"b","x":17,"y":0},{"s":"b","x":18,"y":0},{"s":"b","x":19,"y":0},{"s":"b","x":20,"y":0},{"s":"b","x":21,"y":0},{"s":"b","x":22,"y":0},{"s":"b","x":23,"y":0},{"s":"b","x":24,"y":0},{"s":"b","x":25,"y":0},{"s":"b","x":26,"y":0},{"s":"b","x":27,"y":0},{"s":"b","x":28,"y":0},{"s":"b","x":29,"y":0},{"s":"b","x":30,"y":0},{"s":"b","x":31,"y":0},{"s":"b","x":32,"y":0},{"s":"b","x":33,"y":0},{"s":"b","x":34,"y":0},{"s":"b","x":35,"y":0},{"s":"b","x":36,"y":0},{"s":"b","x":37,"y":0},{"s":"b","x":38,"y":0},{"s":"b","x":39,"y":0},{"s":"b","x":40,"y":0},
{"s":"a","x":0,"y":1},{"s":"c","x":0,"y":1},{"s":"d","x":0,"y":1},{"s":"b","x":0,"y":1}],
"p8":[
{"s":"a","x":1,"y":0.0},{"s":"a","x":2,"y":0.03},{"s":"a","x":3,"y":0.0},{"s":"a","x":4,"y":0.02},{"s":"a","x":5,"y":0.0},{"s":"a","x":6,"y":0.02},{"s":"a","x":7,"y":-0.01},{"s":"a","x":8,"y":0.01},{"s":"a","x":9,"y":-0.02},{"s":"a","x":10,"y":0.02},{"s":"a","x":11,"y":-0.01},{"s":"a","x":12,"y":0.03},{"s":"a","x":13,"y":-0.01},{"s":"a","x":14,"y":0.02},{"s":"a","x":15,"y":0.02},{"s":"a","x":16,"y":0.0},{"s":"a","x":17,"y":0.0},{"s":"a","x":18,"y":0.01},{"s":"a","x":19,"y":-0.02},{"s":"a","x":20,"y":0.01},{"s":"a","x":21,"y":-0.03},{"s":"a","x":22,"y":0.03},{"s":"a","x":23,"y":-0.01},{"s":"a","x":24,"y":0.01},{"s":"a","x":25,"y":-0.02},{"s":"a","x":26,"y":0.01},{"s":"a","x":27,"y":0.01},{"s":"a","x":28,"y":0.01},{"s":"a","x":29,"y":-0.03},{"s":"a","x":30,"y":0.03},{"s":"a","x":31,"y":-0.04},{"s":"a","x":32,"y":0.03},{"s":"a","x":33,"y":-0.02},{"s":"a","x":34,"y":0.0},{"s":"a","x":35,"y":-0.03},{"s":"a","x":36,"y":0.01},{"s":"a","x":37,"y":-0.01},{"s":"a","x":38,"y":0.01},{"s":"a","x":39,"y":-0.02},{"s":"a","x":40,"y":-0.01},
{"s":"d","x":1,"y":0.01},{"s":"d","x":2,"y":0.04},{"s":"d","x":3,"y":0.0},{"s":"d","x":4,"y":0.03},{"s":"d","x":5,"y":0.01},{"s":"d","x":6,"y":0.02},{"s":"d","x":7,"y":0.0},{"s":"d","x":8,"y":0.02},{"s":"d","x":9,"y":-0.01},{"s":"d","x":10,"y":0.04},{"s":"d","x":11,"y":0.0},{"s":"d","x":12,"y":0.03},{"s":"d","x":13,"y":0.0},{"s":"d","x":14,"y":0.02},{"s":"d","x":15,"y":0.03},{"s":"d","x":16,"y":0.01},{"s":"d","x":17,"y":0.01},{"s":"d","x":18,"y":0.02},{"s":"d","x":19,"y":-0.02},{"s":"d","x":20,"y":0.03},{"s":"d","x":21,"y":-0.01},{"s":"d","x":22,"y":0.03},{"s":"d","x":23,"y":0.0},{"s":"d","x":24,"y":0.03},{"s":"d","x":25,"y":-0.01},{"s":"d","x":26,"y":0.02},{"s":"d","x":27,"y":0.02},{"s":"d","x":28,"y":0.02},{"s":"d","x":29,"y":-0.02},{"s":"d","x":30,"y":0.04},{"s":"d","x":31,"y":-0.03},{"s":"d","x":32,"y":0.04},{"s":"d","x":33,"y":-0.01},{"s":"d","x":34,"y":0.03},{"s":"d","x":35,"y":-0.02},{"s":"d","x":36,"y":0.02},{"s":"d","x":37,"y":0.0},{"s":"d","x":38,"y":0.01},{"s":"d","x":39,"y":-0.01},{"s":"d","x":40,"y":0.0},
{"s":"c","x":1,"y":-0.03},{"s":"c","x":2,"y":0.05},{"s":"c","x":3,"y":-0.02},{"s":"c","x":4,"y":0.04},{"s":"c","x":5,"y":-0.02},{"s":"c","x":6,"y":0.03},{"s":"c","x":7,"y":-0.03},{"s":"c","x":8,"y":0.01},{"s":"c","x":9,"y":-0.04},{"s":"c","x":10,"y":0.02},{"s":"c","x":11,"y":-0.03},{"s":"c","x":12,"y":0.05},{"s":"c","x":13,"y":-0.03},{"s":"c","x":14,"y":0.02},{"s":"c","x":15,"y":0.02},{"s":"c","x":16,"y":0.0},{"s":"c","x":17,"y":-0.01},{"s":"c","x":18,"y":0.02},{"s":"c","x":19,"y":-0.04},{"s":"c","x":20,"y":0.01},{"s":"c","x":21,"y":-0.05},{"s":"c","x":22,"y":0.05},{"s":"c","x":23,"y":-0.03},{"s":"c","x":24,"y":0.02},{"s":"c","x":25,"y":-0.04},{"s":"c","x":26,"y":0.01},{"s":"c","x":27,"y":0.02},{"s":"c","x":28,"y":0.01},{"s":"c","x":29,"y":-0.05},{"s":"c","x":30,"y":0.05},{"s":"c","x":31,"y":-0.06},{"s":"c","x":32,"y":0.05},{"s":"c","x":33,"y":-0.04},{"s":"c","x":34,"y":0.0},{"s":"c","x":35,"y":-0.05},{"s":"c","x":36,"y":0.01},{"s":"c","x":37,"y":-0.02},{"s":"c","x":38,"y":0.01},{"s":"c","x":39,"y":-0.04},{"s":"c","x":40,"y":-0.02},
{"s":"b","x":1,"y":0.02},{"s":"b","x":2,"y":0.04},{"s":"b","x":3,"y":0.02},{"s":"b","x":4,"y":0.03},{"s":"b","x":5,"y":0.06},{"s":"b","x":6,"y":0.03},{"s":"b","x":7,"y":0.01},{"s":"b","x":8,"y":0.03},{"s":"b","x":9,"y":0.02},{"s":"b","x":10,"y":0.03},{"s":"b","x":11,"y":0.02},{"s":"b","x":12,"y":0.04},{"s":"b","x":13,"y":0.01},{"s":"b","x":14,"y":0.03},{"s":"b","x":15,"y":0.07},{"s":"b","x":16,"y":-0.02},{"s":"b","x":17,"y":0.03},{"s":"b","x":18,"y":0.02},{"s":"b","x":19,"y":0.0},{"s":"b","x":20,"y":0.02},{"s":"b","x":21,"y":0.01},{"s":"b","x":22,"y":0.03},{"s":"b","x":23,"y":0.0},{"s":"b","x":24,"y":0.02},{"s":"b","x":25,"y":0.03},{"s":"b","x":26,"y":0.01},{"s":"b","x":27,"y":0.02},{"s":"b","x":28,"y":0.03},{"s":"b","x":29,"y":0.02},{"s":"b","x":30,"y":0.04},{"s":"b","x":31,"y":0.02},{"s":"b","x":32,"y":0.03},{"s":"b","x":33,"y":-0.01},{"s":"b","x":34,"y":-0.02},{"s":"b","x":35,"y":0.02},{"s":"b","x":36,"y":0.0},{"s":"b","x":37,"y":0.03},{"s":"b","x":38,"y":-0.01},{"s":"b","x":39,"y":0.02},{"s":"b","x":40,"y":0.0}],
"p9":[
{"s":"a","x":1,"y":0.90},{"s":"a","x":2,"y":0.84},{"s":"a","x":3,"y":0.78},{"s":"a","x":4,"y":0.72},{"s":"a","x":5,"y":0.66},{"s":"a","x":6,"y":0.62},{"s":"a","x":7,"y":0.60},{"s":"a","x":8,"y":0.60},{"s":"a","x":9,"y":0.61},{"s":"a","x":10,"y":0.62},{"s":"a","x":11,"y":0.65},{"s":"a","x":12,"y":0.675},{"s":"a","x":13,"y":0.715},{"s":"a","x":14,"y":0.775},{"s":"a","x":15,"y":0.83},{"s":"a","x":16,"y":0.785},{"s":"a","x":17,"y":0.725},{"s":"a","x":18,"y":0.69},{"s":"a","x":19,"y":0.66},{"s":"a","x":20,"y":0.59},{"s":"a","x":21,"y":0.567},{"s":"a","x":22,"y":0.54},{"s":"a","x":23,"y":0.53},{"s":"a","x":24,"y":0.523},{"s":"a","x":25,"y":0.523},{"s":"a","x":26,"y":0.54},{"s":"a","x":27,"y":0.557},{"s":"a","x":28,"y":0.59},{"s":"a","x":29,"y":0.648},{"s":"a","x":30,"y":0.725},{"s":"a","x":31,"y":0.718},{"s":"a","x":32,"y":0.658},{"s":"a","x":33,"y":0.614},{"s":"a","x":34,"y":0.58},{"s":"a","x":35,"y":0.547},{"s":"a","x":36,"y":0.507},{"s":"a","x":37,"y":0.473},{"s":"a","x":38,"y":0.463},{"s":"a","x":39,"y":0.456},{"s":"a","x":40,"y":0.456},
{"s":"d","x":1,"y":0.92},{"s":"d","x":2,"y":0.84},{"s":"d","x":3,"y":0.78},{"s":"d","x":4,"y":0.725},{"s":"d","x":5,"y":0.66},{"s":"d","x":6,"y":0.62},{"s":"d","x":7,"y":0.57},{"s":"d","x":8,"y":0.52},{"s":"d","x":9,"y":0.47},{"s":"d","x":10,"y":0.41},{"s":"d","x":11,"y":0.37},{"s":"d","x":12,"y":0.34},{"s":"d","x":13,"y":0.305},{"s":"d","x":14,"y":0.27},{"s":"d","x":15,"y":0.255},{"s":"d","x":16,"y":0.22},{"s":"d","x":17,"y":0.205},{"s":"d","x":18,"y":0.19},{"s":"d","x":19,"y":0.17},{"s":"d","x":20,"y":0.17},{"s":"d","x":21,"y":0.16},{"s":"d","x":22,"y":0.155},{"s":"d","x":23,"y":0.15},{"s":"d","x":24,"y":0.15},{"s":"d","x":25,"y":0.145},{"s":"d","x":26,"y":0.145},{"s":"d","x":27,"y":0.15},{"s":"d","x":28,"y":0.15},{"s":"d","x":29,"y":0.155},{"s":"d","x":30,"y":0.165},{"s":"d","x":31,"y":0.17},{"s":"d","x":32,"y":0.175},{"s":"d","x":33,"y":0.18},{"s":"d","x":34,"y":0.19},{"s":"d","x":35,"y":0.20},{"s":"d","x":36,"y":0.20},{"s":"d","x":37,"y":0.21},{"s":"d","x":38,"y":0.21},{"s":"d","x":39,"y":0.215},{"s":"d","x":40,"y":0.22},
{"s":"c","x":1,"y":0.41},{"s":"c","x":2,"y":0.43},{"s":"c","x":3,"y":0.42},{"s":"c","x":4,"y":0.42},{"s":"c","x":5,"y":0.43},{"s":"c","x":6,"y":0.37},{"s":"c","x":7,"y":0.40},{"s":"c","x":8,"y":0.355},{"s":"c","x":9,"y":0.355},{"s":"c","x":10,"y":0.365},{"s":"c","x":11,"y":0.39},{"s":"c","x":12,"y":0.31},{"s":"c","x":13,"y":0.32},{"s":"c","x":14,"y":0.34},{"s":"c","x":15,"y":0.29},{"s":"c","x":16,"y":0.30},{"s":"c","x":17,"y":0.265},{"s":"c","x":18,"y":0.265},{"s":"c","x":19,"y":0.245},{"s":"c","x":20,"y":0.255},{"s":"c","x":21,"y":0.24},{"s":"c","x":22,"y":0.245},{"s":"c","x":23,"y":0.23},{"s":"c","x":24,"y":0.22},{"s":"c","x":25,"y":0.205},{"s":"c","x":26,"y":0.19},{"s":"c","x":27,"y":0.20},{"s":"c","x":28,"y":0.22},{"s":"c","x":29,"y":0.19},{"s":"c","x":30,"y":0.17},{"s":"c","x":31,"y":0.19},{"s":"c","x":32,"y":0.18},{"s":"c","x":33,"y":0.17},{"s":"c","x":34,"y":0.155},{"s":"c","x":35,"y":0.145},{"s":"c","x":36,"y":0.13},{"s":"c","x":37,"y":0.12},{"s":"c","x":38,"y":0.11},{"s":"c","x":39,"y":0.10},{"s":"c","x":40,"y":0.09},
{"s":"b","x":1,"y":0.73},{"s":"b","x":2,"y":0.735},{"s":"b","x":3,"y":0.72},{"s":"b","x":4,"y":0.71},{"s":"b","x":5,"y":0.695},{"s":"b","x":6,"y":0.68},{"s":"b","x":7,"y":0.67},{"s":"b","x":8,"y":0.655},{"s":"b","x":9,"y":0.64},{"s":"b","x":10,"y":0.63},{"s":"b","x":11,"y":0.615},{"s":"b","x":12,"y":0.60},{"s":"b","x":13,"y":0.59},{"s":"b","x":14,"y":0.575},{"s":"b","x":15,"y":0.56},{"s":"b","x":16,"y":0.55},{"s":"b","x":17,"y":0.535},{"s":"b","x":18,"y":0.52},{"s":"b","x":19,"y":0.51},{"s":"b","x":20,"y":0.495},{"s":"b","x":21,"y":0.48},{"s":"b","x":22,"y":0.47},{"s":"b","x":23,"y":0.455},{"s":"b","x":24,"y":0.44},{"s":"b","x":25,"y":0.43},{"s":"b","x":26,"y":0.415},{"s":"b","x":27,"y":0.40},{"s":"b","x":28,"y":0.39},{"s":"b","x":29,"y":0.375},{"s":"b","x":30,"y":0.36},{"s":"b","x":31,"y":0.35},{"s":"b","x":32,"y":0.335},{"s":"b","x":33,"y":0.32},{"s":"b","x":34,"y":0.31},{"s":"b","x":35,"y":0.295},{"s":"b","x":36,"y":0.28},{"s":"b","x":37,"y":0.27},{"s":"b","x":38,"y":0.255},{"s":"b","x":39,"y":0.24},{"s":"b","x":40,"y":0.23},
{"s":"a","x":0,"y":1},{"s":"c","x":0,"y":1},{"s":"d","x":0,"y":1},{"s":"b","x":0,"y":1}],
"b1":[
{"s":"a","x":0.5,"lo":0,"hi":0},{"s":"a","x":1.5,"lo":-0.03,"hi":0.03},{"s":"a","x":4,"lo":-0.06,"hi":0.06},{"s":"a","x":8,"lo":-0.09,"hi":0.09},{"s":"a","x":14,"lo":-0.12,"hi":0.12},{"s":"a","x":22,"lo":-0.15,"hi":0.15},{"s":"a","x":31,"lo":-0.17,"hi":0.17},{"s":"a","x":40.5,"lo":-0.19,"hi":0.19},
{"s":"b","x":0.5,"lo":0,"hi":0},{"s":"b","x":1.5,"lo":-0.03,"hi":0.03},{"s":"b","x":4,"lo":-0.05,"hi":0.05},{"s":"b","x":8,"lo":-0.07,"hi":0.07},{"s":"b","x":14,"lo":-0.09,"hi":0.09},{"s":"b","x":22,"lo":-0.11,"hi":0.11},{"s":"b","x":31,"lo":-0.12,"hi":0.12},{"s":"b","x":40.5,"lo":-0.13,"hi":0.13},
{"s":"c","x":0.5,"lo":0,"hi":0},{"s":"c","x":1.5,"lo":-0.03,"hi":0.03},{"s":"c","x":4,"lo":-0.07,"hi":0.065},{"s":"c","x":8,"lo":-0.115,"hi":0.105},{"s":"c","x":14,"lo":-0.16,"hi":0.15},{"s":"c","x":22,"lo":-0.205,"hi":0.19},{"s":"c","x":31,"lo":-0.24,"hi":0.225},{"s":"c","x":40.5,"lo":-0.27,"hi":0.255},
{"s":"d","x":0.5,"lo":0,"hi":0},{"s":"d","x":1.5,"lo":-0.035,"hi":0.03},{"s":"d","x":4,"lo":-0.065,"hi":0.055},{"s":"d","x":8,"lo":-0.075,"hi":0.065},{"s":"d","x":14,"lo":-0.078,"hi":0.068},{"s":"d","x":22,"lo":-0.08,"hi":0.07},{"s":"d","x":31,"lo":-0.08,"hi":0.07},{"s":"d","x":40.5,"lo":-0.08,"hi":0.07}],
"b2":[
{"s":"a","x":0.5,"lo":0,"hi":0},{"s":"a","x":1.5,"lo":-0.03,"hi":0.03},{"s":"a","x":4,"lo":-0.06,"hi":0.06},{"s":"a","x":8,"lo":-0.09,"hi":0.09},{"s":"a","x":14,"lo":-0.12,"hi":0.12},{"s":"a","x":22,"lo":-0.15,"hi":0.15},{"s":"a","x":31,"lo":-0.17,"hi":0.17},{"s":"a","x":40.5,"lo":-0.19,"hi":0.19},
{"s":"b","x":0.5,"lo":0,"hi":0},{"s":"b","x":1.5,"lo":-0.03,"hi":0.03},{"s":"b","x":4,"lo":-0.05,"hi":0.05},{"s":"b","x":8,"lo":-0.07,"hi":0.07},{"s":"b","x":14,"lo":-0.09,"hi":0.09},{"s":"b","x":22,"lo":-0.11,"hi":0.11},{"s":"b","x":31,"lo":-0.12,"hi":0.12},{"s":"b","x":40.5,"lo":-0.13,"hi":0.13},
{"s":"c","x":0.5,"lo":0,"hi":0},{"s":"c","x":1.5,"lo":-0.03,"hi":0.03},{"s":"c","x":4,"lo":-0.07,"hi":0.065},{"s":"c","x":8,"lo":-0.115,"hi":0.105},{"s":"c","x":14,"lo":-0.16,"hi":0.15},{"s":"c","x":22,"lo":-0.205,"hi":0.19},{"s":"c","x":31,"lo":-0.24,"hi":0.225},{"s":"c","x":40.5,"lo":-0.27,"hi":0.255},
{"s":"d","x":0.5,"lo":0,"hi":0},{"s":"d","x":1.5,"lo":-0.035,"hi":0.03},{"s":"d","x":4,"lo":-0.07,"hi":0.06},{"s":"d","x":8,"lo":-0.08,"hi":0.07},{"s":"d","x":14,"lo":-0.083,"hi":0.072},{"s":"d","x":22,"lo":-0.085,"hi":0.074},{"s":"d","x":31,"lo":-0.085,"hi":0.074},{"s":"d","x":40.5,"lo":-0.085,"hi":0.074}],
"b3":[
{"s":"a","x":0.5,"lo":-0.012,"hi":0.012},{"s":"a","x":1.5,"lo":-0.02,"hi":0.02},{"s":"a","x":4,"lo":-0.03,"hi":0.03},{"s":"a","x":8,"lo":-0.04,"hi":0.04},{"s":"a","x":14,"lo":-0.055,"hi":0.055},{"s":"a","x":22,"lo":-0.07,"hi":0.07},{"s":"a","x":31,"lo":-0.08,"hi":0.08},{"s":"a","x":40.5,"lo":-0.09,"hi":0.09},
{"s":"b","x":0.5,"lo":-0.015,"hi":0.015},{"s":"b","x":1.5,"lo":-0.022,"hi":0.022},{"s":"b","x":4,"lo":-0.035,"hi":0.035},{"s":"b","x":8,"lo":-0.05,"hi":0.045},{"s":"b","x":14,"lo":-0.07,"hi":0.06},{"s":"b","x":22,"lo":-0.085,"hi":0.075},{"s":"b","x":31,"lo":-0.1,"hi":0.09},{"s":"b","x":40.5,"lo":-0.11,"hi":0.1},
{"s":"c","x":0.5,"lo":-0.015,"hi":0.015},{"s":"c","x":1.5,"lo":-0.022,"hi":0.022},{"s":"c","x":4,"lo":-0.035,"hi":0.035},{"s":"c","x":8,"lo":-0.048,"hi":0.045},{"s":"c","x":14,"lo":-0.065,"hi":0.06},{"s":"c","x":22,"lo":-0.08,"hi":0.078},{"s":"c","x":31,"lo":-0.09,"hi":0.09},{"s":"c","x":40.5,"lo":-0.098,"hi":0.1},
{"s":"d","x":0.5,"lo":-0.013,"hi":0.013},{"s":"d","x":1.5,"lo":-0.02,"hi":0.02},{"s":"d","x":4,"lo":-0.03,"hi":0.032},{"s":"d","x":8,"lo":-0.04,"hi":0.042},{"s":"d","x":14,"lo":-0.052,"hi":0.057},{"s":"d","x":22,"lo":-0.065,"hi":0.075},{"s":"d","x":31,"lo":-0.074,"hi":0.087},{"s":"d","x":40.5,"lo":-0.08,"hi":0.095}],
"b4":[
{"s":"a","x":0.5,"lo":0,"hi":0},{"s":"a","x":1.5,"lo":-0.02,"hi":0.02},{"s":"a","x":4,"lo":-0.04,"hi":0.04},{"s":"a","x":8,"lo":-0.06,"hi":0.06},{"s":"a","x":14,"lo":-0.07,"hi":0.07},{"s":"a","x":22,"lo":-0.08,"hi":0.08},{"s":"a","x":31,"lo":-0.085,"hi":0.085},{"s":"a","x":40.5,"lo":-0.09,"hi":0.09},
{"s":"b","x":0.5,"lo":0,"hi":0},{"s":"b","x":1.5,"lo":-0.005,"hi":0.005},{"s":"b","x":4,"lo":-0.008,"hi":0.008},{"s":"b","x":8,"lo":-0.01,"hi":0.01},{"s":"b","x":14,"lo":-0.01,"hi":0.01},{"s":"b","x":22,"lo":-0.01,"hi":0.01},{"s":"b","x":31,"lo":-0.01,"hi":0.01},{"s":"b","x":40.5,"lo":-0.01,"hi":0.01},
{"s":"c","x":0.5,"lo":0,"hi":0},{"s":"c","x":1.5,"lo":-0.035,"hi":0.03},{"s":"c","x":4,"lo":-0.075,"hi":0.07},{"s":"c","x":8,"lo":-0.11,"hi":0.1},{"s":"c","x":14,"lo":-0.16,"hi":0.14},{"s":"c","x":22,"lo":-0.21,"hi":0.19},{"s":"c","x":31,"lo":-0.255,"hi":0.235},{"s":"c","x":40.5,"lo":-0.3,"hi":0.28},
{"s":"d","x":0.5,"lo":0,"hi":0},{"s":"d","x":1.5,"lo":-0.005,"hi":0.005},{"s":"d","x":4,"lo":-0.008,"hi":0.008},{"s":"d","x":8,"lo":-0.01,"hi":0.01},{"s":"d","x":14,"lo":-0.012,"hi":0.012},{"s":"d","x":22,"lo":-0.012,"hi":0.012},{"s":"d","x":31,"lo":-0.012,"hi":0.012},{"s":"d","x":40.5,"lo":-0.012,"hi":0.012}],
"b5":[
{"s":"a","x":0.5,"lo":0,"hi":0},{"s":"a","x":1.5,"lo":-0.012,"hi":0.012},{"s":"a","x":4,"lo":-0.025,"hi":0.025},{"s":"a","x":8,"lo":-0.035,"hi":0.035},{"s":"a","x":14,"lo":-0.05,"hi":0.05},{"s":"a","x":22,"lo":-0.065,"hi":0.065},{"s":"a","x":31,"lo":-0.08,"hi":0.08},{"s":"a","x":40.5,"lo":-0.095,"hi":0.095},
{"s":"b","x":0.5,"lo":0,"hi":0},{"s":"b","x":1.5,"lo":-0.012,"hi":0.012},{"s":"b","x":4,"lo":-0.025,"hi":0.025},{"s":"b","x":8,"lo":-0.037,"hi":0.037},{"s":"b","x":14,"lo":-0.052,"hi":0.052},{"s":"b","x":22,"lo":-0.068,"hi":0.068},{"s":"b","x":31,"lo":-0.083,"hi":0.083},{"s":"b","x":40.5,"lo":-0.1,"hi":0.1},
{"s":"c","x":0.5,"lo":0,"hi":0},{"s":"c","x":1.5,"lo":-0.017,"hi":0.015},{"s":"c","x":4,"lo":-0.032,"hi":0.03},{"s":"c","x":8,"lo":-0.047,"hi":0.043},{"s":"c","x":14,"lo":-0.063,"hi":0.058},{"s":"c","x":22,"lo":-0.085,"hi":0.077},{"s":"c","x":31,"lo":-0.105,"hi":0.097},{"s":"c","x":40.5,"lo":-0.125,"hi":0.115},
{"s":"d","x":0.5,"lo":0,"hi":0},{"s":"d","x":1.5,"lo":-0.015,"hi":0.015},{"s":"d","x":4,"lo":-0.03,"hi":0.03},{"s":"d","x":8,"lo":-0.047,"hi":0.045},{"s":"d","x":14,"lo":-0.065,"hi":0.06},{"s":"d","x":22,"lo":-0.088,"hi":0.08},{"s":"d","x":31,"lo":-0.11,"hi":0.1},{"s":"d","x":40.5,"lo":-0.13,"hi":0.12}],
"b6":[
{"s":"a","x":0.5,"lo":0,"hi":0},{"s":"a","x":1.5,"lo":-0.012,"hi":0.012},{"s":"a","x":4,"lo":-0.025,"hi":0.025},{"s":"a","x":8,"lo":-0.035,"hi":0.035},{"s":"a","x":14,"lo":-0.048,"hi":0.048},{"s":"a","x":22,"lo":-0.06,"hi":0.06},{"s":"a","x":31,"lo":-0.07,"hi":0.07},{"s":"a","x":40.5,"lo":-0.08,"hi":0.08},
{"s":"b","x":0.5,"lo":0,"hi":0},{"s":"b","x":1.5,"lo":-0.017,"hi":0.015},{"s":"b","x":4,"lo":-0.035,"hi":0.03},{"s":"b","x":8,"lo":-0.05,"hi":0.045},{"s":"b","x":14,"lo":-0.07,"hi":0.06},{"s":"b","x":22,"lo":-0.09,"hi":0.072},{"s":"b","x":31,"lo":-0.11,"hi":0.083},{"s":"b","x":40.5,"lo":-0.125,"hi":0.092},
{"s":"c","x":0.5,"lo":0,"hi":0},{"s":"c","x":1.5,"lo":-0.016,"hi":0.014},{"s":"c","x":4,"lo":-0.032,"hi":0.028},{"s":"c","x":8,"lo":-0.047,"hi":0.042},{"s":"c","x":14,"lo":-0.065,"hi":0.056},{"s":"c","x":22,"lo":-0.083,"hi":0.068},{"s":"c","x":31,"lo":-0.098,"hi":0.078},{"s":"c","x":40.5,"lo":-0.11,"hi":0.087},
{"s":"d","x":0.5,"lo":0,"hi":0},{"s":"d","x":1.5,"lo":-0.015,"hi":0.014},{"s":"d","x":4,"lo":-0.03,"hi":0.028},{"s":"d","x":8,"lo":-0.045,"hi":0.042},{"s":"d","x":14,"lo":-0.06,"hi":0.055},{"s":"d","x":22,"lo":-0.077,"hi":0.067},{"s":"d","x":31,"lo":-0.09,"hi":0.077},{"s":"d","x":40.5,"lo":-0.1,"hi":0.085}],
"b9":[
{"s":"a","x":0.5,"lo":-0.015,"hi":0.015},{"s":"a","x":1.5,"lo":-0.022,"hi":0.02},{"s":"a","x":4,"lo":-0.04,"hi":0.035},{"s":"a","x":8,"lo":-0.058,"hi":0.05},{"s":"a","x":14,"lo":-0.077,"hi":0.065},{"s":"a","x":22,"lo":-0.095,"hi":0.08},{"s":"a","x":31,"lo":-0.11,"hi":0.09},{"s":"a","x":40.5,"lo":-0.12,"hi":0.098},
{"s":"b","x":0.5,"lo":-0.015,"hi":0.018},{"s":"b","x":1.5,"lo":-0.02,"hi":0.025},{"s":"b","x":4,"lo":-0.035,"hi":0.04},{"s":"b","x":8,"lo":-0.05,"hi":0.055},{"s":"b","x":14,"lo":-0.065,"hi":0.07},{"s":"b","x":22,"lo":-0.08,"hi":0.085},{"s":"b","x":31,"lo":-0.09,"hi":0.097},{"s":"b","x":40.5,"lo":-0.1,"hi":0.108},
{"s":"c","x":0.5,"lo":-0.015,"hi":0.015},{"s":"c","x":1.5,"lo":-0.02,"hi":0.02},{"s":"c","x":4,"lo":-0.035,"hi":0.035},{"s":"c","x":8,"lo":-0.05,"hi":0.05},{"s":"c","x":14,"lo":-0.065,"hi":0.065},{"s":"c","x":22,"lo":-0.078,"hi":0.078},{"s":"c","x":31,"lo":-0.088,"hi":0.088},{"s":"c","x":40.5,"lo":-0.095,"hi":0.095},
{"s":"d","x":0.5,"lo":-0.015,"hi":0.015},{"s":"d","x":1.5,"lo":-0.02,"hi":0.02},{"s":"d","x":4,"lo":-0.035,"hi":0.035},{"s":"d","x":8,"lo":-0.05,"hi":0.05},{"s":"d","x":14,"lo":-0.065,"hi":0.065},{"s":"d","x":22,"lo":-0.08,"hi":0.08},{"s":"d","x":31,"lo":-0.09,"hi":0.09},{"s":"d","x":40.5,"lo":-0.1,"hi":0.1}]
},
"concat":[
{"title":{"text":"Frame Age","dy":9},"width":334,"height":124,
 "encoding":{"x":{"field":"x","type":"quantitative","scale":{"domain":[-2.025,42.525],"nice":false},"axis":{"values":[0,20,40],"labels":false,"title":null}},
  "color":{"field":"s","type":"nominal","legend":{"title":null,"orient":"none","legendX":270,"legendY":292,"rowPadding":8.6,"padding":5,"symbolType":"M-1,-1H4.143V1H-1Z","symbolSize":196,"labelOffset":32,"symbolStrokeWidth":0,"symbolOpacity":1,"labelExpr":"{'a':'Low Low','b':'Low High','c':'High Low','d':'High High'}[datum.value]"}}},
 "layer":[
  {"data":{"name":"b1"},"mark":{"type":"area","clip":true,"opacity":1},"encoding":{"y":{"field":"lo","type":"quantitative","scale":{"domain":[-0.25,1],"nice":false},"axis":{"values":[0,0.5,1],"format":".1f","labels":true,"title":null}},"y2":{"field":"hi"}}},
  {"data":{"name":"p1"},"mark":{"type":"circle","clip":true,"size":60,"opacity":1},"encoding":{"y":{"field":"y","type":"quantitative","scale":{"domain":[-0.25,1],"nice":false},"axis":{"values":[0,0.5,1],"format":".1f","labels":true,"title":null}}}}]},
{"title":"Frame Size","width":334,"height":124,
 "encoding":{"x":{"field":"x","type":"quantitative","scale":{"domain":[-2.025,42.525],"nice":false},"axis":{"values":[0,20,40],"labels":false,"title":null}},
  "color":{"field":"s","type":"nominal"}},
 "layer":[
  {"data":{"name":"b2"},"mark":{"type":"area","clip":true,"opacity":1},"encoding":{"y":{"field":"lo","type":"quantitative","scale":{"domain":[-0.25,1],"nice":false},"axis":{"values":[0,0.5,1],"labels":false,"title":null}},"y2":{"field":"hi"}}},
  {"data":{"name":"p2"},"mark":{"type":"circle","clip":true,"size":60,"opacity":1},"encoding":{"y":{"field":"y","type":"quantitative","scale":{"domain":[-0.25,1],"nice":false},"axis":{"values":[0,0.5,1],"labels":false,"title":null}}}}]},
{"title":"Encode Time","width":334,"height":124,
 "encoding":{"x":{"field":"x","type":"quantitative","scale":{"domain":[-2.025,42.525],"nice":false},"axis":{"values":[0,20,40],"labels":false,"title":null}},
  "color":{"field":"s","type":"nominal"}},
 "layer":[
  {"data":{"name":"b3"},"mark":{"type":"area","clip":true,"opacity":1},"encoding":{"y":{"field":"lo","type":"quantitative","scale":{"domain":[-0.25,1],"nice":false},"axis":{"values":[0,0.5,1],"labels":false,"title":null}},"y2":{"field":"hi"}}},
  {"data":{"name":"p3"},"mark":{"type":"circle","clip":true,"size":60,"opacity":1},"encoding":{"y":{"field":"y","type":"quantitative","scale":{"domain":[-0.25,1],"nice":false},"axis":{"values":[0,0.5,1],"labels":false,"title":null}}}}]},
{"title":{"text":"Transfer Time","dy":35},"width":334,"height":124,
 "encoding":{"x":{"field":"x","type":"quantitative","scale":{"domain":[-2.025,42.525],"nice":false},"axis":{"values":[0,20,40],"labels":false,"title":null}},
  "color":{"field":"s","type":"nominal"}},
 "layer":[
  {"data":{"name":"b4"},"mark":{"type":"area","clip":true,"opacity":1},"encoding":{"y":{"field":"lo","type":"quantitative","scale":{"domain":[-0.25,1],"nice":false},"axis":{"values":[0,0.5,1],"format":".1f","labels":true,"title":"Autocorrelation","titleY":66,"titlePadding":13,"titleFontSize":26.5}},"y2":{"field":"hi"}}},
  {"data":{"name":"p4"},"mark":{"type":"circle","clip":true,"size":60,"opacity":1},"encoding":{"y":{"field":"y","type":"quantitative","scale":{"domain":[-0.25,1],"nice":false},"axis":{"values":[0,0.5,1],"format":".1f","labels":true,"title":"Autocorrelation","titleY":66,"titlePadding":13,"titleFontSize":26.5}}}}]},
{"title":"Decode Time","width":334,"height":124,
 "encoding":{"x":{"field":"x","type":"quantitative","scale":{"domain":[-2.025,42.525],"nice":false},"axis":{"values":[0,20,40],"labels":false,"title":null}},
  "color":{"field":"s","type":"nominal"}},
 "layer":[
  {"data":{"name":"b5"},"mark":{"type":"area","clip":true,"opacity":1},"encoding":{"y":{"field":"lo","type":"quantitative","scale":{"domain":[-0.25,1],"nice":false},"axis":{"values":[0,0.5,1],"labels":false,"title":null}},"y2":{"field":"hi"}}},
  {"data":{"name":"p5"},"mark":{"type":"circle","clip":true,"size":60,"opacity":1},"encoding":{"y":{"field":"y","type":"quantitative","scale":{"domain":[-0.25,1],"nice":false},"axis":{"values":[0,0.5,1],"labels":false,"title":null}}}}]},
{"title":"Upload Time","width":334,"height":124,
 "encoding":{"x":{"field":"x","type":"quantitative","scale":{"domain":[-2.025,42.525],"nice":false},"axis":{"values":[0,20,40],"labels":false,"title":null}},
  "color":{"field":"s","type":"nominal"}},
 "layer":[
  {"data":{"name":"b6"},"mark":{"type":"area","clip":true,"opacity":1},"encoding":{"y":{"field":"lo","type":"quantitative","scale":{"domain":[-0.25,1],"nice":false},"axis":{"values":[0,0.5,1],"labels":false,"title":null}},"y2":{"field":"hi"}}},
  {"data":{"name":"p6"},"mark":{"type":"circle","clip":true,"size":60,"opacity":1},"encoding":{"y":{"field":"y","type":"quantitative","scale":{"domain":[-0.25,1],"nice":false},"axis":{"values":[0,0.5,1],"labels":false,"title":null}}}}]},
{"title":{"text":"Convert Time","dy":10},"width":334,"height":124,
 "data":{"name":"p7"},
 "mark":{"type":"circle","clip":true,"size":60,"opacity":1},
 "encoding":{"x":{"field":"x","type":"quantitative","scale":{"domain":[-2.025,42.525],"nice":false},"axis":{"values":[0,20,40],"labels":true,"title":null}},
  "y":{"field":"y","type":"quantitative","scale":{"domain":[-0.25,1],"nice":false},"axis":{"values":[0,0.5,1],"format":".1f","labels":true,"title":null}},
  "color":{"field":"s","type":"nominal"}}},
{"title":"Capture Time","width":334,"height":124,
 "data":{"name":"p8"},
 "mark":{"type":"circle","clip":true,"size":60,"opacity":1},
 "encoding":{"x":{"field":"x","type":"quantitative","scale":{"domain":[-2.025,42.525],"nice":false},"axis":{"values":[0,20,40],"labels":true,"title":"Time Lag"}},
  "y":{"field":"y","type":"quantitative","scale":{"domain":[-0.25,1],"nice":false},"axis":{"values":[0,0.5,1],"labels":false,"title":null}},
  "color":{"field":"s","type":"nominal"}}},
{"title":"Complete","width":334,"height":124,
 "encoding":{"x":{"field":"x","type":"quantitative","scale":{"domain":[-2.025,42.525],"nice":false},"axis":{"values":[0,20,40],"labels":true,"title":null}},
  "color":{"field":"s","type":"nominal"}},
 "layer":[
  {"data":{"name":"b9"},"mark":{"type":"area","clip":true,"opacity":1},"encoding":{"y":{"field":"lo","type":"quantitative","scale":{"domain":[-0.25,1],"nice":false},"axis":{"values":[0,0.5,1],"labels":false,"title":null}},"y2":{"field":"hi"}}},
  {"data":{"name":"p9"},"mark":{"type":"circle","clip":true,"size":60,"opacity":1},"encoding":{"y":{"field":"y","type":"quantitative","scale":{"domain":[-0.25,1],"nice":false},"axis":{"values":[0,0.5,1],"labels":false,"title":null}}}}]}
],
"config":{
 "font":"DejaVu Sans",
 "view":{"stroke":"#333333","strokeWidth":1.5},
 "range":{"category":["#1f77b4","#ff7f0e","#2ca02c","#d62728"]},
 "axis":{"grid":false,"domain":false,"tickColor":"#333333","tickWidth":1.3,"tickSize":6,"labelFont":"DejaVu Sans","labelFontSize":22,"labelColor":"#111111","labelPadding":6,"labelFlush":false,"labelOverlap":false,"titleFont":"DejaVu Sans","titleFontSize":24,"titleFontWeight":"normal","titleColor":"#111111","titlePadding":8},
 "title":{"font":"DejaVu Sans","fontSize":24,"fontWeight":"normal","color":"#111111","frame":"group","offset":4},
 "legend":{"labelFont":"DejaVu Sans","labelFontSize":16.5,"labelColor":"#222222","strokeColor":"#cccccc","fillColor":"white","cornerRadius":4}
}
}
